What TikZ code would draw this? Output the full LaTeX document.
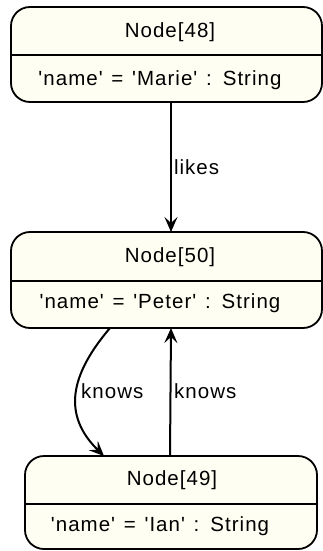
\documentclass[tikz,border=0pt]{standalone}
\usepackage{fontspec}
\setmainfont{Liberation Sans}[LetterSpace=5,WordSpace=1.3,Ligatures=TeXOff]
\usetikzlibrary{arrows.meta}
\definecolor{nodefill}{HTML}{FEFEF2}
\tikzset{
  box/.style={draw=black, line width=1.8pt, fill=nodefill, rounded corners=19pt},
  divider/.style={draw=black, line width=1.8pt},
  txt/.style={font=\fontsize{20.5}{22}\selectfont, inner sep=0pt, anchor=center},
  lbl/.style={font=\fontsize{20.5}{22}\selectfont, inner sep=1pt},
  edge/.style={line width=2pt, -{Stealth[length=15pt,width=13pt,inset=6pt]}},
}
\begin{document}
\begin{tikzpicture}[x=1pt,y=-1pt]
\useasboundingbox (0,0) rectangle (322,551);
% Node[48]
\draw[box] (11,7) rectangle (322,102);
\draw[divider] (11,55) -- (322,55);
\node[txt] (t48) at (170,32) {Node[48]};
\node[txt] (p48) at (160,80) {'name' = 'Marie' : String};
\coordinate (A) at (171,102);
% Node[50]
\draw[box] (11,232) rectangle (322,328);
\draw[divider] (11,281) -- (322,281);
\node[txt] (t50) at (170,257) {Node[50]};
\node[txt] (p50) at (160,303) {'name' = 'Peter' : String};
\coordinate (Btop) at (171,232);
\coordinate (Bl) at (110,328);
\coordinate (Br) at (171,328);
% Node[49]
\draw[box] (25,456) rectangle (317,549);
\draw[divider] (25,504) -- (317,504);
\node[txt] (t49) at (172,480) {Node[49]};
\node[txt] (p49) at (160,526) {'name' = 'Ian' : String};
\coordinate (Ctl) at (104,456);
\coordinate (Ct) at (170,456);
% edges
\draw[edge] (A) -- (Btop) node[lbl, midway, right=1pt] (likes) {likes};
\draw[edge] (Bl) .. controls (70,375) and (62,415) .. (Ctl);
\node[lbl, anchor=west] (k1) at (80,391) {knows};
\draw[edge] (Ct) -- (Br);
\node[lbl, anchor=west] (k2) at (173,391) {knows};
\end{tikzpicture}
\end{document}
